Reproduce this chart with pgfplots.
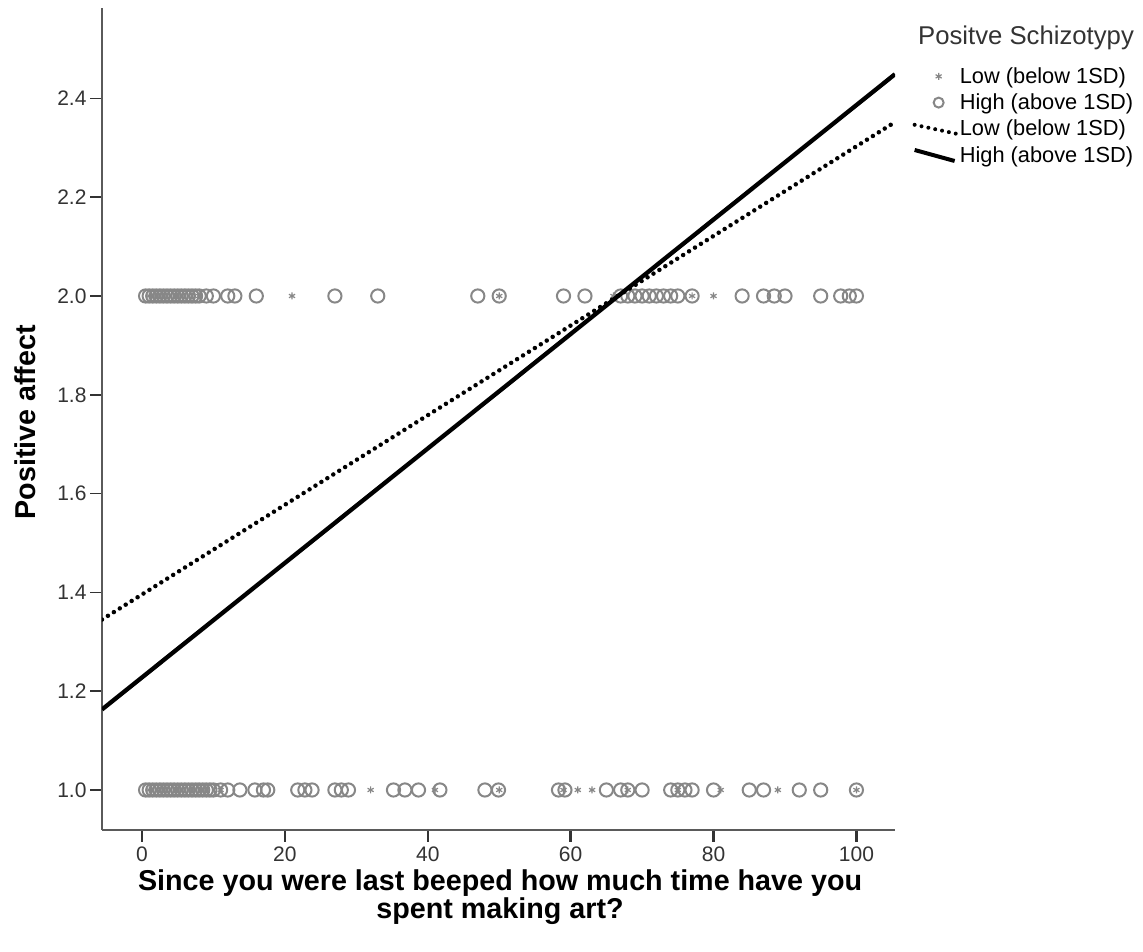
\documentclass[border=0pt]{standalone}
\usepackage{fontspec}
\setmainfont{Liberation Sans}
\usepackage{pgfplots}
\pgfplotsset{compat=1.18}
\definecolor{ptgray}{RGB}{135,135,135}
\definecolor{axgray}{RGB}{90,90,90}
\pgfplotsset{
  markleg/.style={legend image code/.code={\draw[##1] plot coordinates {(26pt,0pt)};}},
  circleg/.style={legend image code/.code={\draw[##1, mark size=5pt] plot coordinates {(26pt,0pt)};}},
  dotleg/.style={legend image code/.code={\draw[##1, line width=4pt] (2pt,4pt) -- (44pt,-5pt);}},
  solleg/.style={legend image code/.code={\draw[##1, line width=4pt] (2pt,5pt) -- (42pt,-6pt);}},
}
\begin{document}
\begin{tikzpicture}
\useasboundingbox (-102pt,-122pt) rectangle (1041pt,830pt);
\begin{axis}[
  scale only axis, width=793pt, height=822pt,
  xmin=-5.6, xmax=105.4, ymin=0.919, ymax=2.583,
  axis x line*=bottom, axis y line*=left,
  axis line style={axgray, line width=1.3pt, -},
  tick align=outside,
  xtick={0,20,40,60,80,100}, ytick={1.0,1.2,1.4,1.6,1.8,2.0,2.2,2.4},
  major tick length=12pt,
  x tick style={black!80, line width=2.4pt},
  y tick style={black!80, line width=1.6pt},
  yticklabel style={/pgf/number format/.cd, fixed, fixed zerofill, precision=1},
  /pgf/number format/assume math mode=true,
  tick label style={font=\fontsize{21}{24}\selectfont, text=black!80},
  xticklabel style={yshift=-1pt},
  xlabel={Since you were last beeped how much time have you\\spent making art?},
  ylabel={Positive affect},
  xlabel style={at={(axis description cs:0.502,-0.0815)}, anchor=center, align=center, font=\fontsize{28.7}{25}\selectfont\bfseries},
  ylabel style={at={(axis description cs:-0.097,0.496)}, anchor=center, font=\fontsize{28.7}{30}\selectfont\bfseries},
  clip mode=individual,
  legend cell align=left,
  legend style={at={(rel axis cs:1.022,0.929)}, anchor=north west, draw=none, fill=none,
    font=\fontsize{21.8}{24}\selectfont, row sep=6.5pt, inner sep=0pt,
    nodes={inner sep=1.2pt}, /tikz/every even column/.append style={column sep=0pt}},
]
\addplot[only marks, mark=asterisk, mark size=3.5pt, ptgray, line width=1.2pt, markleg]
  coordinates {
  (1,2) (2,2) (3,2) (5,2) (8,2) (21,2) (50,2) (66,2) (77,2) (80,2)
  (1,1) (3,1) (5,1) (7,1) (9,1) (11,1) (32,1) (41,1) (50,1) (59,1) (61,1) (63,1) (68,1) (75,1) (81,1) (89,1) (100,1)
  };
\addlegendentry{Low (below 1SD)}
\addplot[only marks, mark=o, mark size=6.6pt, ptgray, line width=2pt, circleg]
  coordinates {
  (0.5,2) (1,2) (1.5,2) (2,2) (2.5,2) (3,2) (3.5,2) (4,2) (4.5,2) (5,2) (5.5,2) (6,2) (6.5,2) (7,2) (7.5,2) (8,2) (9,2) (10,2) (12,2) (13,2)
  (16,2) (27,2) (33,2) (47,2) (50,2) (59,2) (62,2) (67,2) (68,2) (69,2) (70,2) (71,2) (72,2) (73,2) (74,2) (75,2) (77,2)
  (84,2) (87,2) (88.5,2) (90,2) (95,2) (97.8,2) (99,2) (100,2)
  (0.5,1) (1,1) (1.5,1) (2,1) (2.5,1) (3,1) (3.5,1) (4,1) (4.5,1) (5,1) (5.5,1) (6,1) (6.5,1) (7,1) (7.5,1) (8,1) (8.5,1) (9,1) (9.5,1) (10,1) (11,1) (12,1)
  (13.7,1) (15.8,1) (17,1) (17.6,1) (21.8,1) (22.8,1) (23.8,1) (27,1) (27.9,1) (28.9,1) (35.2,1) (36.8,1) (38.7,1) (41.7,1)
  (48,1) (49.9,1) (58.3,1) (59.2,1) (65,1) (67,1) (68,1) (70,1) (74,1) (75,1) (76,1) (77,1) (80,1) (85,1) (87,1) (92,1) (95,1) (100,1)
  };
\addlegendentry{High (above 1SD)}
\addplot[black, line width=4.5pt, line cap=round, dash pattern=on 0pt off 7pt, dotleg]
  coordinates {(-5.6,1.345) (105.4,2.352)};
\addlegendentry{Low (below 1SD)}
\addplot[black, line width=4.3pt, solleg]
  coordinates {(-5.6,1.163) (105.4,2.449)};
\addlegendentry{High (above 1SD)}
\node[anchor=west, font=\fontsize{25.7}{28}\selectfont, text=black!80, inner sep=0pt]
  at (rel axis cs:1.029,0.9635) {Positve Schizotypy};
\end{axis}
\end{tikzpicture}
\end{document}
